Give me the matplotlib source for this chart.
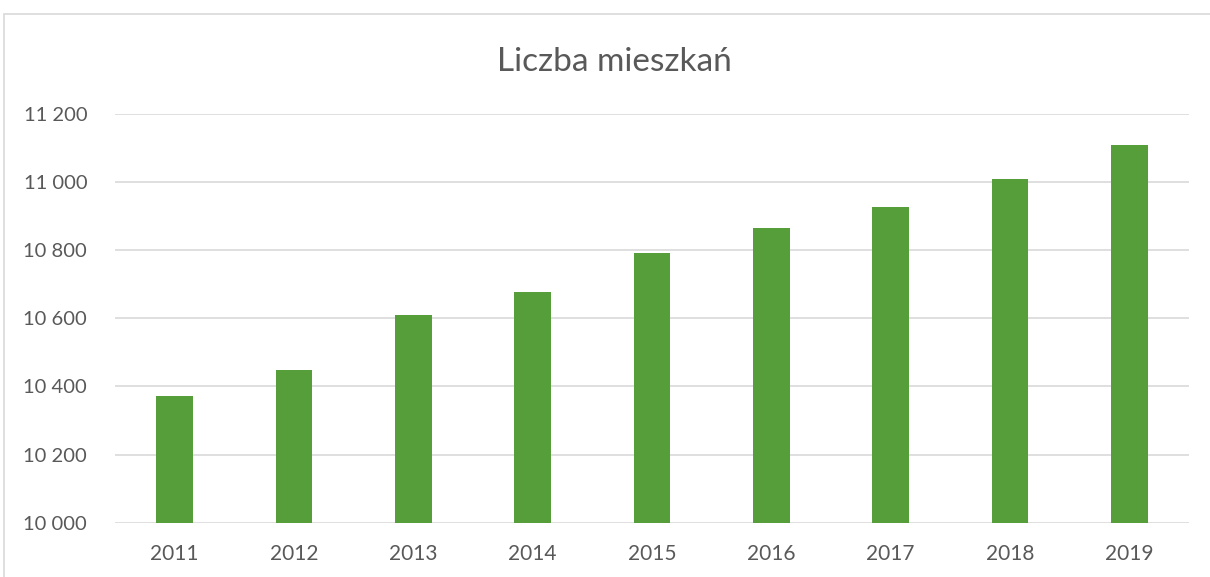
import numpy as np
import matplotlib.pyplot as plt
from matplotlib.ticker import FuncFormatter
from matplotlib.patches import Rectangle

# dane
lata = ["2011", "2012", "2013", "2014", "2015", "2016", "2017", "2018", "2019"]
mieszkania = [10372, 10448, 10610, 10678, 10791, 10864, 10925, 11008, 11107]
y_ticki = [10000, 10200, 10400, 10600, 10800, 11000, 11200]

ZIELONY = "#559E3A"
SZARY = "#595959"
SIATKA = "#D9D9D9"

plt.rcParams['font.family'] = ['Lato', 'DejaVu Sans']


def format_tys(v, pos):
    return "{:,}".format(int(v)).replace(",", " ")


def wykres(x, y):
    fig = plt.figure(figsize=(12.1, 5.77), dpi=100)
    # ramka wykresu
    fig.patches.append(Rectangle((4 / 1210, -0.1), 1.2, 1 - 14 / 577 + 0.1,
                                 transform=fig.transFigure, fill=False,
                                 edgecolor=SIATKA, linewidth=1.2))
    ax = fig.add_axes([115 / 1210, 1 - 522.7 / 577, 1074 / 1210, 409 / 577])

    pos = np.arange(len(x))
    ax.bar(pos, y, width=0.31, color=ZIELONY, zorder=3)
    ax.set_xlim(-0.5, len(x) - 0.5)
    ax.set_ylim(y_ticki[0], y_ticki[-1])
    ax.set_yticks(y_ticki)
    ax.yaxis.set_major_formatter(FuncFormatter(format_tys))
    ax.set_xticks(pos)
    ax.set_xticklabels(x)
    ax.grid(True, axis='y', color=SIATKA, linewidth=1.2, zorder=0)
    for s in ax.spines.values():
        s.set_visible(False)
    ax.tick_params(length=0, colors=SZARY)
    ax.tick_params(axis='y', pad=20, labelsize=14.5)
    ax.tick_params(axis='x', pad=15, labelsize=15)
    fig.text(614.5 / 1210, 1 - 62 / 577, "Liczba mieszkań", fontsize=24,
             color=SZARY, ha='center', va='center')
    fig.savefig("out.png", dpi=100)


wykres(lata, mieszkania)
